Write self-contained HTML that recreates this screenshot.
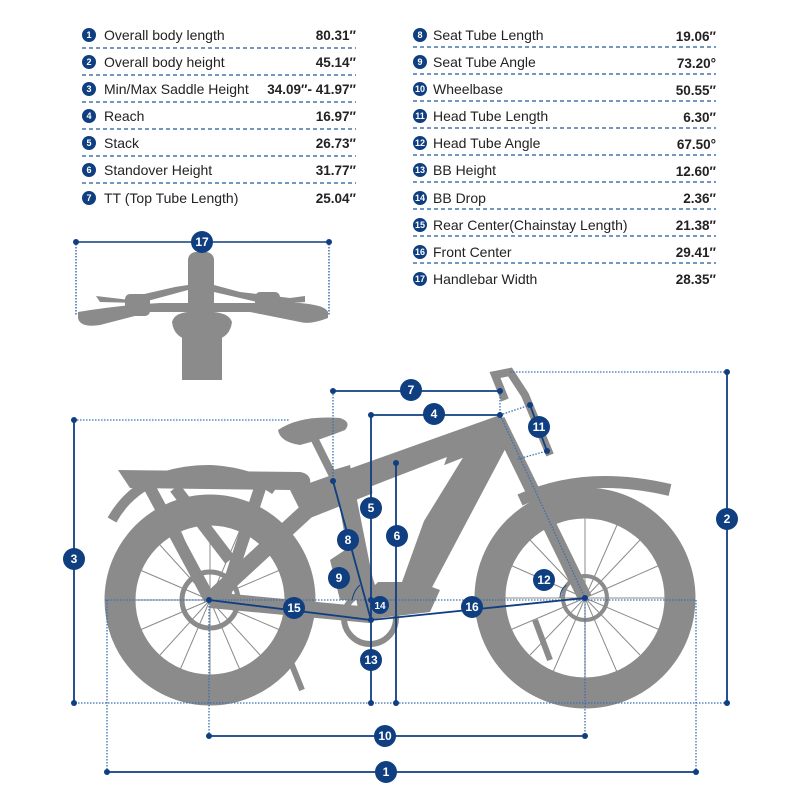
<!DOCTYPE html>
<html><head><meta charset="utf-8"><style>
html,body{margin:0;padding:0;background:#fff;width:800px;height:800px;overflow:hidden}
svg{display:block}
text{font-family:"Liberation Sans",sans-serif}
</style></head><body>
<svg width="800" height="800" viewBox="0 0 800 800" xmlns="http://www.w3.org/2000/svg">
<!-- TABLE -->
<g font-size="14" fill="#222">
<g stroke="#1e5a9e" stroke-width="1.3" stroke-dasharray="4,3">
<line x1="82" y1="48" x2="356" y2="48"/><line x1="82" y1="75" x2="356" y2="75"/><line x1="82" y1="102" x2="356" y2="102"/><line x1="82" y1="129" x2="356" y2="129"/><line x1="82" y1="156" x2="356" y2="156"/><line x1="82" y1="183" x2="356" y2="183"/>
<line x1="413" y1="47" x2="716" y2="47"/><line x1="413" y1="74" x2="716" y2="74"/><line x1="413" y1="101" x2="716" y2="101"/><line x1="413" y1="128" x2="716" y2="128"/><line x1="413" y1="155" x2="716" y2="155"/><line x1="413" y1="182" x2="716" y2="182"/><line x1="413" y1="209" x2="716" y2="209"/><line x1="413" y1="236" x2="716" y2="236"/><line x1="413" y1="263" x2="716" y2="263"/>
</g>
<g fill="#0f3f80">
<circle cx="89" cy="35" r="7"/><circle cx="89" cy="62" r="7"/><circle cx="89" cy="89" r="7"/><circle cx="89" cy="116" r="7"/><circle cx="89" cy="143" r="7"/><circle cx="89" cy="170" r="7"/><circle cx="89" cy="198" r="7"/>
<circle cx="420" cy="35" r="7"/><circle cx="420" cy="62" r="7"/><circle cx="420" cy="89" r="7"/><circle cx="420" cy="116" r="7"/><circle cx="420" cy="143" r="7"/><circle cx="420" cy="170" r="7"/><circle cx="420" cy="198" r="7"/><circle cx="420" cy="225" r="7"/><circle cx="420" cy="252" r="7"/><circle cx="420" cy="279" r="7"/>
</g>
<g fill="#fff" font-size="9" font-weight="bold" text-anchor="middle">
<text x="89" y="38">1</text><text x="89" y="65">2</text><text x="89" y="92">3</text><text x="89" y="119">4</text><text x="89" y="146">5</text><text x="89" y="173">6</text><text x="89" y="201">7</text>
<text x="420" y="38">8</text><text x="420" y="65">9</text><text x="420" y="92">10</text><text x="420" y="119">11</text><text x="420" y="146">12</text><text x="420" y="173">13</text><text x="420" y="201">14</text><text x="420" y="228">15</text><text x="420" y="255">16</text><text x="420" y="282">17</text>
</g>
<text x="104" y="40">Overall body length</text><text x="104" y="67">Overall body height</text><text x="104" y="94">Min/Max Saddle Height</text><text x="104" y="121">Reach</text><text x="104" y="148">Stack</text><text x="104" y="175">Standover Height</text><text x="104" y="203">TT (Top Tube Length)</text>
<text x="433" y="40">Seat Tube Length</text><text x="433" y="67">Seat Tube Angle</text><text x="433" y="94">Wheelbase</text><text x="433" y="121">Head Tube Length</text><text x="433" y="148">Head Tube Angle</text><text x="433" y="175">BB Height</text><text x="433" y="203">BB Drop</text><text x="433" y="230">Rear Center(Chainstay Length)</text><text x="433" y="257">Front Center</text><text x="433" y="284">Handlebar Width</text>
<g font-weight="bold" text-anchor="end" font-size="13.5">
<text x="356" y="40">80.31″</text><text x="356" y="67">45.14″</text><text x="356" y="94">34.09″- 41.97″</text><text x="356" y="121">16.97″</text><text x="356" y="148">26.73″</text><text x="356" y="175">31.77″</text><text x="356" y="203">25.04″</text>
<text x="716" y="41">19.06″</text><text x="716" y="68">73.20°</text><text x="716" y="95">50.55″</text><text x="716" y="122">6.30″</text><text x="716" y="149">67.50°</text><text x="716" y="176">12.60″</text><text x="716" y="203">2.36″</text><text x="716" y="230">21.38″</text><text x="716" y="257">29.41″</text><text x="716" y="284">28.35″</text>
</g>
</g>

<!-- HANDLEBAR -->
<g fill="#8b8b8b" stroke="none">
<rect x="188" y="252" width="26" height="60" rx="8"/>
<path d="M78 312 Q120 305 160 303 L300 303 Q325 305 328 312 L328 318 Q310 325 300 322 L250 312 L150 312 L100 325 Q80 328 78 318Z"/>
<path d="M96 296 L130 300 L140 295 L175 287 L188 285 L188 290 L140 303 L100 302Z"/>
<path d="M214 285 L240 292 L290 298 L305 296 L305 302 L270 305 L214 292Z"/>
<rect x="125" y="294" width="25" height="22" rx="5"/><rect x="255" y="292" width="25" height="22" rx="5"/>
<path d="M172 322 Q175 310 200 312 Q228 310 232 322 Q230 338 214 340 L190 340 Q174 338 172 322Z"/>
<rect x="182" y="335" width="40" height="45"/>
</g>
<g stroke="#0f3f80" stroke-width="1.5" fill="none">
<line x1="76" y1="242" x2="329" y2="242"/>
<line x1="76" y1="244" x2="76" y2="315" stroke-dasharray="1.5,1.5" stroke="#3b6fb0"/>
<line x1="329" y1="244" x2="329" y2="315" stroke-dasharray="1.5,1.5" stroke="#3b6fb0"/>
</g>
<circle cx="76" cy="242" r="3" fill="#0f3f80"/><circle cx="329" cy="242" r="3" fill="#0f3f80"/>

<!-- BIKE -->
<g fill="#8b8b8b" stroke="#8b8b8b">
<circle cx="210" cy="600" r="90" fill="none" stroke-width="31"/>
<circle cx="585" cy="598" r="95" fill="none" stroke-width="31"/>
<g stroke-width="1" fill="none">
<path d="M210 600 L210 525 M210 600 L260 545 M210 600 L285 600 M210 600 L260 655 M210 600 L210 675 M210 600 L160 655 M210 600 L135 600 M210 600 L160 545 M210 600 L240 530 M210 600 L280 570 M210 600 L280 630 M210 600 L240 670 M210 600 L180 670 M210 600 L140 630 M210 600 L140 570 M210 600 L180 530"/>
<path d="M585 598 L585 518 M585 598 L640 540 M585 598 L665 598 M585 598 L640 655 M585 598 L585 678 M585 598 L530 655 M585 598 L505 598 M585 598 L530 540 M585 598 L617 525 M585 598 L660 565 M585 598 L660 630 M585 598 L617 672 M585 598 L553 672 M585 598 L510 630 M585 598 L510 565 M585 598 L553 525"/>
</g>
<circle cx="585" cy="598" r="22" fill="none" stroke-width="4"/>
<circle cx="210" cy="600" r="28" fill="none" stroke-width="5"/>
<path d="M112 520 Q140 470 210 470 Q250 472 275 490" fill="none" stroke-width="10"/>
<path d="M520 500 Q585 470 670 490" fill="none" stroke-width="12"/>
<path d="M118 470 L300 472 Q312 474 310 485 L290 490 L130 488Z" stroke="none"/>
<path d="M150 488 L210 600 M175 488 L230 560 M260 488 L225 595" fill="none" stroke-width="12"/>
<path d="M210 600 L335 485" fill="none" stroke-width="16"/>
<path d="M210 600 L370 615" fill="none" stroke-width="16"/>
<path d="M290 490 L500 415 L508 440 L305 520Z" stroke="none"/>
<path d="M480 430 L510 440 L420 610 L370 620 L360 600 L400 560Z" stroke="none"/>
<path d="M333 470 L350 465 L380 615 L360 620Z" stroke="none"/>
<path d="M330 560 L360 540 L380 600 L340 600Z" stroke="none"/>
<path d="M400 575 L440 590 L430 612 L380 618Z" stroke="none"/>
<circle cx="370" cy="618" r="26" fill="none" stroke-width="6"/>
<path d="M498 420 L585 598" fill="none" stroke-width="14"/>
<path d="M505 400 L495 375 L510 372 L525 395 L550 455" fill="none" stroke-width="8"/>
<path d="M278 430 Q300 415 340 418 Q352 422 345 430 Q320 440 300 445 Q280 442 278 430Z" stroke="none"/>
<path d="M315 440 L335 480" fill="none" stroke-width="8"/>
<path d="M290 660 L302 690" fill="none" stroke-width="6"/>
<path d="M535 620 L550 660" fill="none" stroke-width="6"/>
</g>
<!-- frame opening -->
<polygon points="372,486 447,457 402,582 376,582" fill="#fff"/>

<!-- DIMENSIONS -->
<g stroke="#3b6fb0" stroke-width="1.3" stroke-dasharray="1.5,1.5" fill="none">
<line x1="74" y1="420" x2="290" y2="420"/>
<line x1="510" y1="372" x2="727" y2="372"/>
<line x1="75" y1="703" x2="730" y2="703"/>
<line x1="105" y1="600" x2="696" y2="600"/>
<line x1="107" y1="600" x2="107" y2="772"/>
<line x1="696" y1="600" x2="696" y2="772"/>
<line x1="209" y1="600" x2="209" y2="736"/>
<line x1="585" y1="598" x2="585" y2="736"/>
<line x1="333" y1="391" x2="333" y2="481"/>
<line x1="500" y1="391" x2="500" y2="415"/>
<line x1="500" y1="415" x2="585" y2="598"/>
<line x1="500" y1="415" x2="530" y2="405"/>
<line x1="518" y1="459" x2="547" y2="451"/>
</g>
<g stroke="#0f3f80" stroke-width="1.8" fill="none">
<line x1="107" y1="772" x2="696" y2="772"/>
<line x1="209" y1="736" x2="585" y2="736"/>
<line x1="727" y1="372" x2="727" y2="703"/>
<line x1="74" y1="420" x2="74" y2="703"/>
<line x1="333" y1="391" x2="500" y2="391"/>
<line x1="371" y1="415" x2="500" y2="415"/>
<line x1="371" y1="415" x2="371" y2="703"/>
<line x1="396" y1="463" x2="396" y2="703"/>
<line x1="333" y1="481" x2="371" y2="620"/>
<line x1="209" y1="600" x2="371" y2="620"/>
<line x1="371" y1="620" x2="585" y2="598"/>
<line x1="530" y1="405" x2="547" y2="451"/>
<path d="M352 600 Q354 590 360 585" stroke-width="1"/>
<path d="M560 598 Q560 590 566 585" stroke-width="1"/>
</g>
<g fill="#0f3f80">
<circle cx="107" cy="772" r="3"/><circle cx="696" cy="772" r="3"/>
<circle cx="209" cy="736" r="3"/><circle cx="585" cy="736" r="3"/>
<circle cx="727" cy="372" r="3"/><circle cx="727" cy="703" r="3"/>
<circle cx="74" cy="420" r="3"/><circle cx="74" cy="703" r="3"/>
<circle cx="333" cy="391" r="3"/><circle cx="500" cy="391" r="3"/>
<circle cx="371" cy="415" r="3"/><circle cx="500" cy="415" r="3"/>
<circle cx="396" cy="463" r="3"/><circle cx="371" cy="703" r="3"/><circle cx="396" cy="703" r="3"/>
<circle cx="333" cy="481" r="3"/><circle cx="371" cy="620" r="3"/><circle cx="371" cy="600" r="3"/>
<circle cx="209" cy="600" r="3"/><circle cx="585" cy="598" r="3"/>
<circle cx="530" cy="405" r="3"/><circle cx="547" cy="451" r="3"/>
</g>
<g fill="#0f3f80">
<circle cx="386" cy="772" r="11"/><circle cx="385" cy="736" r="11"/><circle cx="727" cy="519" r="11"/><circle cx="74" cy="559" r="11"/>
<circle cx="411" cy="390" r="11"/><circle cx="434" cy="414" r="11"/><circle cx="371" cy="508" r="11"/><circle cx="397" cy="536" r="11"/>
<circle cx="348" cy="540" r="11"/><circle cx="339" cy="578" r="11"/><circle cx="539" cy="427" r="11"/><circle cx="544" cy="580" r="11"/>
<circle cx="371" cy="660" r="11"/><circle cx="294" cy="608" r="11"/><circle cx="472" cy="607" r="11"/><circle cx="380" cy="605" r="9"/>
<circle cx="202" cy="242" r="11"/>
</g>
<g fill="#fff" font-size="12" font-weight="bold" text-anchor="middle">
<text x="386" y="776">1</text><text x="385" y="740">10</text><text x="727" y="523">2</text><text x="74" y="563">3</text>
<text x="411" y="394">7</text><text x="434" y="418">4</text><text x="371" y="512">5</text><text x="397" y="540">6</text>
<text x="348" y="544">8</text><text x="339" y="582">9</text><text x="539" y="431">11</text><text x="544" y="584">12</text>
<text x="371" y="664">13</text><text x="294" y="612">15</text><text x="472" y="611">16</text><text x="380" y="609" font-size="10">14</text>
<text x="202" y="246">17</text>
</g>
</svg>
</body></html>
